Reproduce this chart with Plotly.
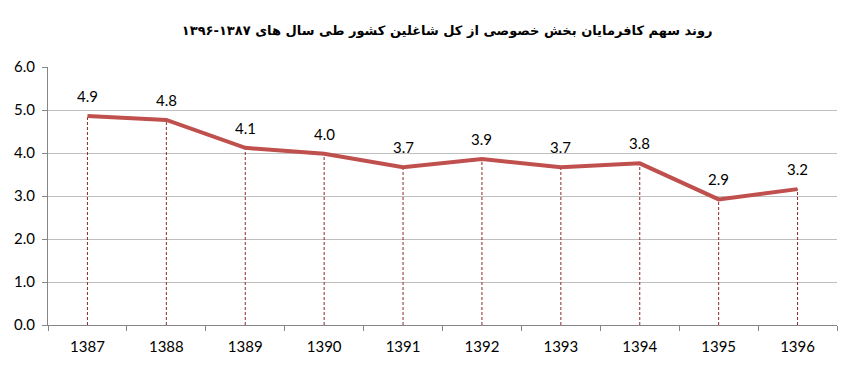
import plotly.graph_objects as go

years = ["1387", "1388", "1389", "1390", "1391", "1392", "1393", "1394", "1395", "1396"]
share = [4.86, 4.77, 4.12, 3.98, 3.67, 3.86, 3.67, 3.76, 2.92, 3.16]
labels = ["4.9", "4.8", "4.1", "4.0", "3.7", "3.9", "3.7", "3.8", "2.9", "3.2"]
title_text = "روند سهم کافرمایان بخش خصوصی از کل شاغلین کشور طی سال های ۱۳۸۷-۱۳۹۶"

drop_x, drop_y = [], []
for yr, v in zip(years, share):
    drop_x += [yr, yr, None]
    drop_y += [0, v, None]

fig = go.Figure()
fig.add_trace(go.Scatter(x=drop_x, y=drop_y, mode="lines",
                         line=dict(color="#8B2A2A", width=1, dash="3px,2px"),
                         hoverinfo="skip", showlegend=False))
fig.add_trace(go.Scatter(x=years, y=share, mode="lines",
                         line=dict(color="#C0504D", width=4),
                         showlegend=False))

for i, (v, t) in enumerate(zip(share, labels)):
    fig.add_annotation(x=i, y=v, xref="x", yref="y", text=t, showarrow=False, yshift=20,
                       font=dict(family="Lato, Open Sans, sans-serif", size=15, color="#000000"))

fig.update_layout(
    width=855, height=367,
    margin=dict(l=48, r=18, t=67, b=40),
    paper_bgcolor="white", plot_bgcolor="white",
    title=dict(text="<b>" + title_text + "</b>", x=0.523, xanchor="center", y=0.918, yanchor="middle",
               font=dict(family="DejaVu Sans", size=13, color="#000000")),
    xaxis=dict(type="category", tickson="boundaries", ticks="outside", ticklen=5,
               tickcolor="#868686", showline=True, linecolor="#868686", linewidth=1,
               showgrid=False, ticklabelstandoff=8,
               tickfont=dict(family="Lato, Open Sans, sans-serif", size=15, color="#000000"),
               range=[-0.5, 9.5]),
    yaxis=dict(range=[0, 6], dtick=1, tickformat=".1f", ticks="outside", ticklen=5,
               tickcolor="#868686", showline=True, linecolor="#868686", linewidth=1,
               showgrid=True, gridcolor="#BFBFBF", gridwidth=1, zeroline=False,
               ticklabelstandoff=4,
               tickfont=dict(family="Lato, Open Sans, sans-serif", size=15, color="#000000")),
)

fig.write_html("out.html")
